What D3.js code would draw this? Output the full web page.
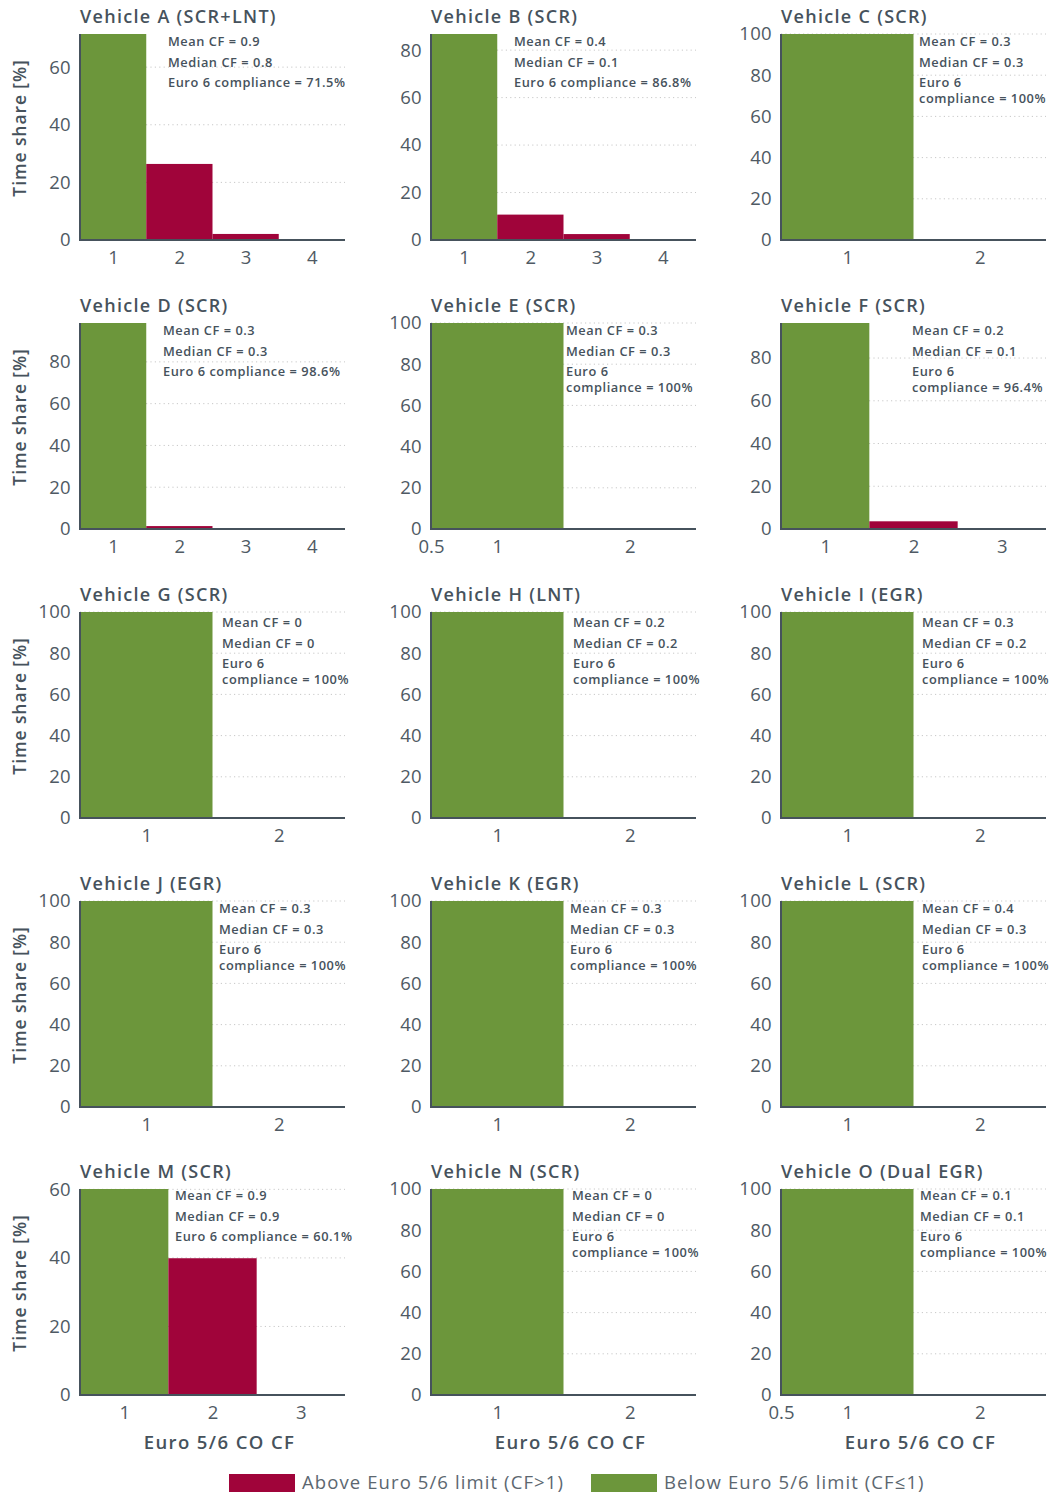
<!DOCTYPE html>
<html>
<head>
<meta charset="utf-8">
<script src="https://cdn.jsdelivr.net/npm/d3@7"></script>
<style>
  html, body { margin: 0; padding: 0; background: #fff; }
  svg { display: block; }
  text { font-family: "Open Sans", "Noto Sans", sans-serif; }
</style>
</head>
<body>
<svg id="chart" width="1052" height="1496"></svg>
<script>
// ---------------- DATA ----------------
const vehicles = [
  "Vehicle A (SCR+LNT)", "Vehicle B (SCR)", "Vehicle C (SCR)",
  "Vehicle D (SCR)", "Vehicle E (SCR)", "Vehicle F (SCR)",
  "Vehicle G (SCR)", "Vehicle H (LNT)", "Vehicle I (EGR)",
  "Vehicle J (EGR)", "Vehicle K (EGR)", "Vehicle L (SCR)",
  "Vehicle M (SCR)", "Vehicle N (SCR)", "Vehicle O (Dual EGR)"
];
// time share [%] per CF bin (bin 1 = CF<=1, bins 2.. = CF>1)
const binShares = [
  [71.5, 26.4, 2.1, 0],
  [86.8, 10.7, 2.5, 0],
  [100, 0],
  [98.6, 1.4, 0, 0],
  [100, 0],
  [96.4, 3.6, 0],
  [100, 0],
  [100, 0],
  [100, 0],
  [100, 0],
  [100, 0],
  [100, 0],
  [60.1, 39.9, 0],
  [100, 0],
  [100, 0]
];
const xTickValues = [
  [1, 2, 3, 4], [1, 2, 3, 4], [1, 2],
  [1, 2, 3, 4], [0.5, 1, 2], [1, 2, 3],
  [1, 2], [1, 2], [1, 2],
  [1, 2], [1, 2], [1, 2],
  [1, 2, 3], [1, 2], [0.5, 1, 2]
];
const meanCF   = ["0.9", "0.4", "0.3", "0.3", "0.3", "0.2", "0", "0.2", "0.3", "0.3", "0.3", "0.4", "0.9", "0", "0.1"];
const medianCF = ["0.8", "0.1", "0.3", "0.3", "0.3", "0.1", "0", "0.2", "0.2", "0.3", "0.3", "0.3", "0.9", "0", "0.1"];
const compliance = ["71.5%", "86.8%", "100%", "98.6%", "100%", "96.4%", "100%", "100%", "100%", "100%", "100%", "100%", "60.1%", "100%", "100%"];
const legendLabels = ["Above Euro 5/6 limit (CF>1)", "Below Euro 5/6 limit (CF\u22641)"];
const yAxisTitle = "Time share [%]";
const xAxisTitle = "Euro 5/6 CO CF";

// ---------------- LAYOUT ----------------
const colLeft = [80, 431, 781];
const rowTop = [34, 323, 612, 901, 1189];
const plotW = 265, plotH = 206;
const noteDx = [88, 83, 138, 83, 135, 131, 142, 142, 141, 139, 139, 141, 95, 141, 139];
const noteDy = [8, 8, 8, 8, 8, 8, 11, 11, 11, 8, 8, 8, 7, 7, 7];
const noteWrap = [false, false, true, false, true, true, true, true, true, true, true, true, false, true, true];

const GREEN = "#6c963b";
const RED = "#a0043a";
const INK = "#46525c";
const TICK = "#4f5a64";
const GRID = "#c8c8c8";

const svg = d3.select("#chart");

vehicles.forEach((name, i) => {
  const col = i % 3, row = Math.floor(i / 3);
  const x0 = colLeft[col], y0 = rowTop[row];
  const shares = binShares[i];
  const nb = shares.length;
  const x = d3.scaleLinear().domain([0.5, nb + 0.5]).range([0, plotW]);
  const yMax = shares[0];
  const y = d3.scaleLinear().domain([0, yMax]).range([plotH, 0]);
  const g = svg.append("g").attr("transform", `translate(${x0},${y0})`);

  const yt = d3.range(0, yMax + 0.001, 20);

  // grid
  g.append("g").selectAll("line").data(yt.filter(v => v > 0)).join("line")
    .attr("x1", 0).attr("x2", plotW)
    .attr("y1", d => y(d)).attr("y2", d => y(d))
    .attr("stroke", GRID).attr("stroke-width", 1)
    .attr("stroke-dasharray", "1.2,3.2");

  // bars
  g.append("g").selectAll("rect").data(shares.map((v, k) => ({bin: k + 1, v}))).join("rect")
    .attr("x", d => x(d.bin - 0.5))
    .attr("width", d => x(d.bin + 0.5) - x(d.bin - 0.5))
    .attr("y", d => y(d.v))
    .attr("height", d => plotH - y(d.v))
    .attr("fill", d => d.bin === 1 ? GREEN : RED);

  // y axis
  const ya = d3.axisLeft(y).tickValues(yt).tickSize(0).tickPadding(9).tickFormat(d3.format("d"));
  const yg = g.append("g").call(ya);
  yg.select(".domain").remove();
  yg.selectAll("text").attr("font-size", 18.5).attr("fill", TICK).attr("font-weight", 400)
    .attr("letter-spacing", 0.3);

  // x axis
  const xa = d3.axisBottom(x).tickValues(xTickValues[i]).tickSize(0).tickPadding(11)
    .tickFormat(d => d === 0.5 ? "0.5" : d3.format("d")(d));
  const xg = g.append("g").attr("transform", `translate(0,${plotH})`).call(xa);
  xg.select(".domain").remove();
  xg.selectAll("text").attr("font-size", 18.5).attr("fill", TICK).attr("font-weight", 400);

  // axis lines
  g.append("line").attr("x1", 0).attr("x2", 0).attr("y1", 0).attr("y2", plotH + 1)
    .attr("stroke", INK).attr("stroke-width", 2);
  g.append("line").attr("x1", -1).attr("x2", plotW).attr("y1", plotH).attr("y2", plotH)
    .attr("stroke", INK).attr("stroke-width", 2);

  // title
  g.append("text").attr("x", 0).attr("y", -11)
    .attr("font-size", 18).attr("font-weight", 600).attr("fill", INK)
    .attr("letter-spacing", 1.3)
    .text(name);

  // notes
  const lines = [`Mean CF = ${meanCF[i]}`, `Median CF = ${medianCF[i]}`];
  const nt = g.append("text").attr("font-size", 12.8).attr("font-weight", 600).attr("fill", INK)
    .attr("letter-spacing", 0.55);
  const nx = noteDx[i];
  const ny = noteDy[i];
  const addLine = (t, dy) => nt.append("tspan").attr("x", nx).attr("y", ny + dy).attr("dy", "0.35em").text(t);
  addLine(lines[0], 0);
  addLine(lines[1], 20.5);
  if (noteWrap[i]) {
    addLine("Euro 6", 41);
    addLine(`compliance = ${compliance[i]}`, 57);
  } else {
    addLine(`Euro 6 compliance = ${compliance[i]}`, 41);
  }

  // y axis title (first column)
  if (col === 0) {
    svg.append("text")
      .attr("transform", `translate(20,${y0 + plotH / 2 - 9}) rotate(-90)`)
      .attr("text-anchor", "middle").attr("dy", "0.35em")
      .attr("font-size", 17.5).attr("font-weight", 600).attr("fill", INK)
      .attr("letter-spacing", 0.9)
      .text(yAxisTitle);
  }
  // x axis title (last row)
  if (row === 4) {
    g.append("text").attr("x", plotW / 2 + 7).attr("y", plotH + 48).attr("dy", "0.35em")
      .attr("text-anchor", "middle")
      .attr("font-size", 18.5).attr("font-weight", 600).attr("fill", INK)
      .attr("letter-spacing", 1.4)
      .text(xAxisTitle);
  }
});

// legend
const legendX = [229, 591];
const legendColors = [RED, GREEN];
const lg = svg.append("g");
legendLabels.forEach((lab, k) => {
  lg.append("rect").attr("x", legendX[k]).attr("y", 1474).attr("width", 66).attr("height", 18)
    .attr("fill", legendColors[k]);
  lg.append("text").attr("x", legendX[k] + 73).attr("y", 1483).attr("dy", "0.35em")
    .attr("font-size", 18.5).attr("font-weight", 400).attr("fill", "#5c6770")
    .attr("letter-spacing", 1.1)
    .text(lab);
});
</script>
</body>
</html>
